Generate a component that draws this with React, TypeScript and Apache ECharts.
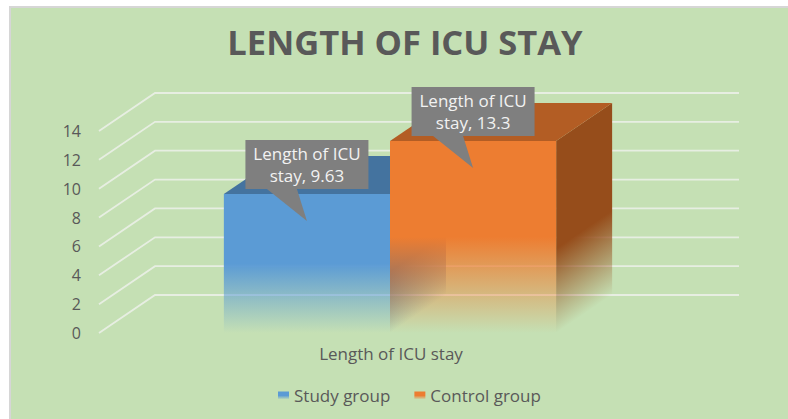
import React, { useEffect, useRef } from "react";
import * as echarts from "echarts";

const categories = ["Length of ICU stay"];
const studyValues = [9.63];
const controlValues = [13.3];
const yTicks = [0, 2, 4, 6, 8, 10, 12, 14];
const titleText = "LENGTH OF ICU STAY";

const DEPTH_X = 56;
const DEPTH_Y = -38;
const BG = "#c5e0b4";
const FONT = "'Open Sans', Lato, sans-serif";

function rgba(hex: string, a: number) {
  const n = parseInt(hex.slice(1), 16);
  return `rgba(${(n >> 16) & 255},${(n >> 8) & 255},${n & 255},${a})`;
}

function fadeStops(hex: string, solid: number) {
  return [
    { offset: 0, color: rgba(hex, 1) },
    { offset: solid, color: rgba(hex, 1) },
    { offset: 1, color: rgba(hex, 0) },
  ];
}

function makeBar(index: number, colors: { front: string; top: string; side: string }, labelLines: (v: number) => string) {
  return (params: any, api: any) => {
    const v = api.value(1);
    const top = api.coord([api.value(0), v]);
    const base = api.coord([api.value(0), 0]);
    const width = api.size([1, 0])[0] * 0.2845;
    const x0 = top[0] + (index - 1) * width - 1;
    const x1 = x0 + width;
    const yT = top[1];
    const yB = base[1];
    const h = yB - yT;
    const solid = 0.5;
    const ySolid = yT + h * solid;

    // side-face gradient runs perpendicular to the receding bottom edge
    const len = Math.hypot(DEPTH_X, DEPTH_Y);
    const nx = -DEPTH_Y / len;
    const ny = DEPTH_X / len;
    const t = (ySolid - yB) * ny;
    const sideFill = new echarts.graphic.LinearGradient(
      x1 + nx * t,
      yB + ny * t,
      x1,
      yB,
      fadeStops(colors.side, 0.12),
      true
    );
    const frontFill = new echarts.graphic.LinearGradient(
      0, yT, 0, yB,
      fadeStops(colors.front, solid),
      true
    );

    const cx = (x0 + x1) / 2;
    const boxW = 123;
    const boxH = 49;
    const boxL = cx - 61.5;
    const boxT = yT - 54;
    const boxB = boxT + boxH;
    const tipY = yT + 27;

    return {
      type: "group",
      children: [
        {
          type: "polygon",
          shape: { points: [[x1, yT], [x1 + DEPTH_X, yT + DEPTH_Y], [x1 + DEPTH_X, yB + DEPTH_Y], [x1, yB]] },
          style: { fill: sideFill },
        },
        {
          type: "polygon",
          shape: { points: [[x0, yT], [x0 + DEPTH_X, yT + DEPTH_Y], [x1 + DEPTH_X, yT + DEPTH_Y], [x1, yT]] },
          style: { fill: colors.top },
        },
        {
          type: "rect",
          shape: { x: x0, y: yT, width, height: h },
          style: { fill: frontFill },
        },
        {
          type: "polygon",
          shape: {
            points: [
              [boxL, boxT], [boxL + boxW, boxT], [boxL + boxW, boxB],
              [cx - 10, boxB], [cx, tipY], [cx - 40, boxB], [boxL, boxB],
            ],
          },
          style: { fill: "#7f7f7f" },
          z2: 10,
        },
        {
          type: "text",
          x: boxL + boxW / 2,
          y: boxT + boxH / 2,
          style: {
            text: labelLines(v),
            fill: "#f2f2f2",
            font: `17px ${FONT}`,
            align: "center",
            verticalAlign: "middle",
            lineHeight: 22,
          },
          z2: 11,
        },
      ],
    };
  };
}

export default function App() {
  const ref = useRef<HTMLDivElement>(null);
  useEffect(() => {
    document.body.style.margin = "0";
    const chart = echarts.init(ref.current!, undefined, { renderer: "svg" });
    const label = (v: number) => {
      const words = `${categories[0]}, ${v}`.split(" ");
      return words.slice(0, 3).join(" ") + "\n" + words.slice(3).join(" ");
    };
    chart.setOption({
      animation: false,
      backgroundColor: "#ffffff",
      graphic: [
        {
          type: "rect",
          z: -10,
          silent: true,
          shape: { x: 10, y: 7, width: 790, height: 420 },
          style: { fill: BG, stroke: "#d6d6d6", lineWidth: 2 },
        },
      ],
      title: {
        text: titleText,
        left: 405,
        top: 19,
        textAlign: "center",
        textStyle: { color: "#595959", fontFamily: FONT, fontSize: 34.5, fontWeight: "bold" },
        padding: [5, 8, 5, 0],
      },
      grid: { left: 99, right: 105, top: 131, bottom: 86 },
      xAxis: {
        type: "category",
        data: categories,
        axisLine: { show: false },
        axisTick: { show: false },
        axisLabel: { color: "#595959", fontFamily: FONT, fontSize: 17, margin: 12 },
      },
      yAxis: {
        type: "value",
        min: 0,
        max: 14,
        interval: 2,
        axisLine: { show: false },
        axisTick: { show: false },
        splitLine: { show: false },
        axisLabel: { color: "#595959", fontFamily: FONT, fontSize: 16, margin: 18, padding: [0, 0, 9, 0] },
      },
      legend: {
        left: 273,
        top: 382,
        icon: "rect",
        itemWidth: 11,
        itemHeight: 8,
        itemGap: 24,
        textStyle: { color: "#595959", fontFamily: FONT, fontSize: 17 },
        data: ["Study group", "Control group"],
      },
      series: [
        {
          type: "custom",
          name: "wall",
          silent: true,
          z: 1,
          data: yTicks.map((t) => [t]),
          encode: { y: 0 },
          renderItem: (params: any, api: any) => {
            const t = api.value(0);
            const a = api.coord([0, t]);
            const size = api.size([1, 0])[0];
            const xl = a[0] - size / 2;
            const xr = a[0] + size / 2;
            return {
              type: "polyline",
              shape: { points: [[xl, a[1]], [xl + DEPTH_X, a[1] + DEPTH_Y], [xr + DEPTH_X, a[1] + DEPTH_Y]] },
              style: { stroke: "#e7eee2", lineWidth: 1.8, fill: "none" },
            };
          },
        },
        {
          type: "custom",
          name: "Study group",
          z: 2,
          itemStyle: {
            color: new echarts.graphic.LinearGradient(0, 0, 0, 1, fadeStops("#5b9bd5", 0.5)),
          },
          data: studyValues.map((v, i) => [i, v]),
          encode: { x: 0, y: 1 },
          renderItem: makeBar(0, { front: "#5b9bd5", top: "#44739f", side: "#3f6c96" }, label),
        },
        {
          type: "custom",
          name: "Control group",
          z: 3,
          itemStyle: {
            color: new echarts.graphic.LinearGradient(0, 0, 0, 1, fadeStops("#ed7d31", 0.5)),
          },
          data: controlValues.map((v, i) => [i, v]),
          encode: { x: 0, y: 1 },
          renderItem: makeBar(1, { front: "#ed7d31", top: "#b35d24", side: "#964d1b" }, label),
        },
      ],
    });
    return () => chart.dispose();
  }, []);
  return <div ref={ref} style={{ position: "fixed", left: 0, top: 0, width: 788, height: 419 }} />;
}
